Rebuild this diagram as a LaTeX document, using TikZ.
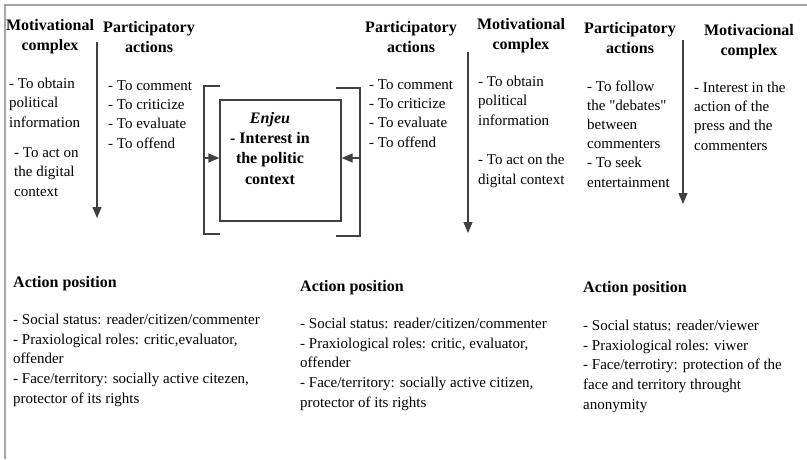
\documentclass[tikz,border=0pt]{standalone}
\usepackage{fontspec}
\setmainfont{Liberation Serif}
\newfontfamily\straightquotes{Liberation Serif}
\usetikzlibrary{arrows.meta, positioning}

\begin{document}
\begin{tikzpicture}[x=1pt, y=-1pt,
    head node/.style={font=\fontsize{16}{20}\selectfont\bfseries, align=center, anchor=base, inner sep=0pt},
    title node/.style={font=\fontsize{16}{20}\selectfont\bfseries, anchor=base west, inner sep=0pt},
    list node/.style={font=\fontsize{15}{19.2}\selectfont, align=left, anchor=base west, inner sep=0pt},
    pos node/.style={list node, font=\fontsize{15}{19.6}\selectfont},
    enjeu box/.style={draw=black!75, line width=1.3pt, minimum width=121pt, minimum height=121pt, inner sep=0pt},
    frame line/.style={draw=gray!70, line width=2pt},
    bracket line/.style={draw=black!75, line width=1.3pt},
    flow arrow/.style={draw=black!75, line width=1.3pt, -{Triangle[length=11pt, width=9pt]}}]
    \useasboundingbox (0,0) rectangle (807,459);

    % frame
    \draw[frame line] (5,459) -- (5,5) -- (807,5);

    % first column (nodes sit on the baseline of their last line)
    \node[head node] (mot one) at (50,50) {Motivational\\complex};
    \node[list node] (mot one a) at (9,127) {- To obtain\\political\\information};
    \node[list node] (mot one b) at (14,196) {- To act on\\the digital\\context};
    \node[head node] (part one) at (149,52) {Participatory\\actions};
    \node[list node] (part one list) at (108,148) {- To comment\\- To criticize\\- To evaluate\\- To offend};
    \coordinate (down one top) at (97,42);
    \coordinate (down one tip) at (97,218);
    \draw[flow arrow] (down one top) -- (down one tip);

    % enjeu
    \node[enjeu box] (enjeu) at (280.5,160.5) {};
    \node[font=\fontsize{16}{20.3}\selectfont\bfseries, align=center, anchor=base, inner sep=0pt]
        (enjeu text) at (270,184) {\textit{Enjeu}\\- Interest in\\the politic\\context};
    \draw[bracket line] (220,86) -- (204,86) -- (204,234) -- (220,234);
    \draw[bracket line] (336,88) -- (360,88) -- (360,236) -- (336,236);
    \coordinate (left in) at (204,158);
    \coordinate (right in) at (360,158);
    \draw[flow arrow] (left in) -- (enjeu.west |- left in);
    \draw[flow arrow] (right in) -- (enjeu.east |- right in);

    % second column
    \node[head node] (part two) at (411,52) {Participatory\\actions};
    \node[list node] (part two list) at (369,147) {- To comment\\- To criticize\\- To evaluate\\- To offend};
    \node[head node] (mot two) at (521,49) {Motivational\\complex};
    \node[list node] (mot two a) at (478,125) {- To obtain\\political\\information};
    \node[list node] (mot two b) at (478,184) {- To act on the\\digital context};
    \coordinate (down two top) at (468,52);
    \coordinate (down two tip) at (468,233);
    \draw[flow arrow] (down two top) -- (down two tip);

    % third column
    \node[head node] (part three) at (630,53) {Participatory\\actions};
    \node[list node] (part three list) at (587,187) {- To follow\\the {\straightquotes "debates"}\\between\\commenters\\- To seek\\entertainment};
    \node[head node] (mot three) at (749,55) {Motivacional\\complex};
    \node[list node] (mot three list) at (694,150) {- Interest in the\\action of the\\press and the\\commenters};
    \coordinate (down three top) at (683,40);
    \coordinate (down three tip) at (683,204);
    \draw[flow arrow] (down three top) -- (down three tip);

    % action positions
    \node[title node] (pos one) at (13,287) {Action position};
    \node[pos node] (pos one list) at (13,403) {- Social status: reader/citizen/commenter\\- Praxiological roles: critic,evaluator,\\offender\\- Face/territory: socially active citezen,\\protector of its rights};
    \node[title node] (pos two) at (300,291) {Action position};
    \node[pos node] (pos two list) at (300,407) {- Social status: reader/citizen/commenter\\- Praxiological roles: critic, evaluator,\\offender\\- Face/territory: socially active citizen,\\protector of its rights};
    \node[title node] (pos three) at (583,292) {Action position};
    \node[pos node] (pos three list) at (583,409) {- Social status: reader/viewer\\- Praxiological roles: viwer\\- Face/terrotiry: protection of the\\face and territory throught\\anonymity};
\end{tikzpicture}
\end{document}
